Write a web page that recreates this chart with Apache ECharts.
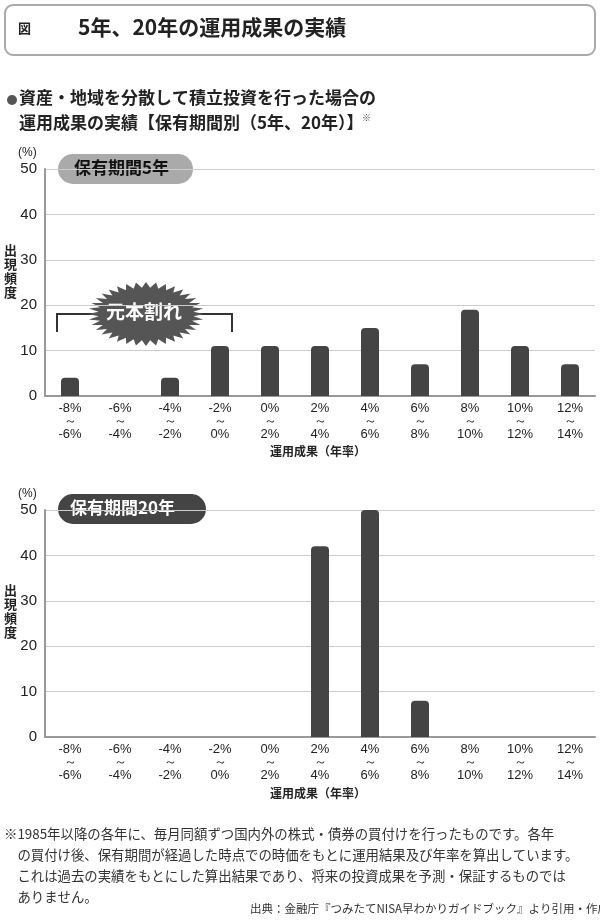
<!DOCTYPE html><html><head><meta charset="utf-8"><script src="https://cdn.jsdelivr.net/npm/echarts@6/dist/echarts.min.js"></script>
<style>body{margin:0;background:#fff}#c{width:600px;height:923px}</style></head><body><div id="c"></div><script>
const categories=['-8%','-6%','-4%','-2%','0%','2%','4%','6%','8%','10%','12%'];
const categoriesTo=['-6%','-4%','-2%','0%','2%','4%','6%','8%','10%','12%','14%'];
const values5y=[4,0,4,11,11,11,15,7,19,11,7];
const values20y=[0,0,0,0,0,42,50,8,0,0,0];
const yTicks=[0,10,20,30,40,50];
const F='"Noto Sans CJK JP",sans-serif';
const labels=categories.map((c,i)=>c+'\n～\n'+categoriesTo[i]);
function mk(top,i){return {grid:{left:45,right:5,top:top,height:227},
 xAxis:{type:'category',gridIndex:i,data:labels,axisTick:{show:false},axisLine:{lineStyle:{color:'#999',width:2}},
  axisLabel:{color:'#222',fontSize:13,lineHeight:13,fontFamily:'Arial',margin:6}},
 yAxis:{type:'value',gridIndex:i,min:0,max:50,interval:10,axisLine:{show:true,lineStyle:{color:'#999',width:2}},
  splitLine:{lineStyle:{color:'#ccc'}},axisLabel:{color:'#222',fontSize:15,fontFamily:'Arial',margin:8}}};}
const g1=mk(169,0),g2=mk(510,1);
function star(cx,cy,rx,ry,n){const p=[];for(let k=0;k<2*n;k++){const a=Math.PI*k/n,r=k%2?0.82:1;p.push([cx+rx*r*Math.cos(a),cy+ry*r*Math.sin(a)]);}return p;}
const ch=echarts.init(document.getElementById('c'));
ch.setOption({animation:false,
 grid:[g1.grid,g2.grid],xAxis:[g1.xAxis,g2.xAxis],yAxis:[g1.yAxis,g2.yAxis],
 series:[{type:'bar',data:values5y,barWidth:18,itemStyle:{color:'#444',borderRadius:[4,4,0,0]}},
  {type:'bar',xAxisIndex:1,yAxisIndex:1,data:values20y,barWidth:18,itemStyle:{color:'#444',borderRadius:[4,4,0,0]}}],
 graphic:[
  {type:'rect',shape:{x:5,y:5,width:590,height:50,r:8},style:{fill:'#fff',stroke:'#aaa',lineWidth:2}},
  {type:'text',x:18,y:22,style:{text:'図',font:'bold 13px '+F,fill:'#222'}},
  {type:'text',x:78,y:17,style:{text:'5年、20年の運用成果の実績',font:'bold 21px '+F,fill:'#222'}},
  {type:'circle',shape:{cx:12,cy:100,r:5},style:{fill:'#555'}},
  {type:'text',x:19,y:89,style:{text:'資産・地域を分散して積立投資を行った場合の',font:'bold 17px '+F,fill:'#222'}},
  {type:'text',x:19,y:114,style:{text:'運用成果の実績【保有期間別（5年、20年）】',font:'bold 17px '+F,fill:'#222'}},
  {type:'text',x:362,y:113,style:{text:'※',font:'9px '+F,fill:'#444'}},
  {type:'text',x:18,y:147,style:{text:'(%)',font:'12px Arial',fill:'#222'}},
  {type:'text',x:18,y:488,style:{text:'(%)',font:'12px Arial',fill:'#222'}},
  {type:'rect',shape:{x:58,y:154,width:135,height:30,r:15},style:{fill:'#aaa'}},
  {type:'text',x:74,y:159,style:{text:'保有期間5年',font:'bold 17px '+F,fill:'#111'}},
  {type:'rect',shape:{x:58,y:494,width:148,height:30,r:15},style:{fill:'#444'}},
  {type:'text',x:70,y:499,style:{text:'保有期間20年',font:'bold 17px '+F,fill:'#fff'}},
  {type:'text',x:4,y:243,style:{text:'出\n現\n頻\n度',font:'bold 13px '+F,fill:'#222',lineHeight:14}},
  {type:'text',x:4,y:583,style:{text:'出\n現\n頻\n度',font:'bold 13px '+F,fill:'#222',lineHeight:14}},
  {type:'polyline',shape:{points:[[57,332],[57,314],[232,314],[232,332]]},style:{stroke:'#333',lineWidth:2,fill:null}},
  {type:'polygon',shape:{points:star(146,314,58,32,36)},style:{fill:'#555'}},
  {type:'text',x:106,y:302,style:{text:'元本割れ',font:'bold 19px '+F,fill:'#fff'}},
  {type:'text',x:270,y:445,style:{text:'運用成果（年率）',font:'bold 12px '+F,fill:'#222'}},
  {type:'text',x:270,y:787,style:{text:'運用成果（年率）',font:'bold 12px '+F,fill:'#222'}},
  {type:'text',x:4,y:823,style:{text:'※1985年以降の各年に、毎月同額ずつ国内外の株式・債券の買付けを行ったものです。各年\n　の買付け後、保有期間が経過した時点での時価をもとに運用結果及び年率を算出しています。\n　これは過去の実績をもとにした算出結果であり、将来の投資成果を予測・保証するものでは\n　ありません。',font:'13.4px '+F,fill:'#333',lineHeight:21}},
  {type:'text',x:250,y:903,style:{text:'出典：金融庁『つみたてNISA早わかりガイドブック』より引用・作成',font:'11.5px '+F,fill:'#333'}}
 ]});
</script></body></html>
